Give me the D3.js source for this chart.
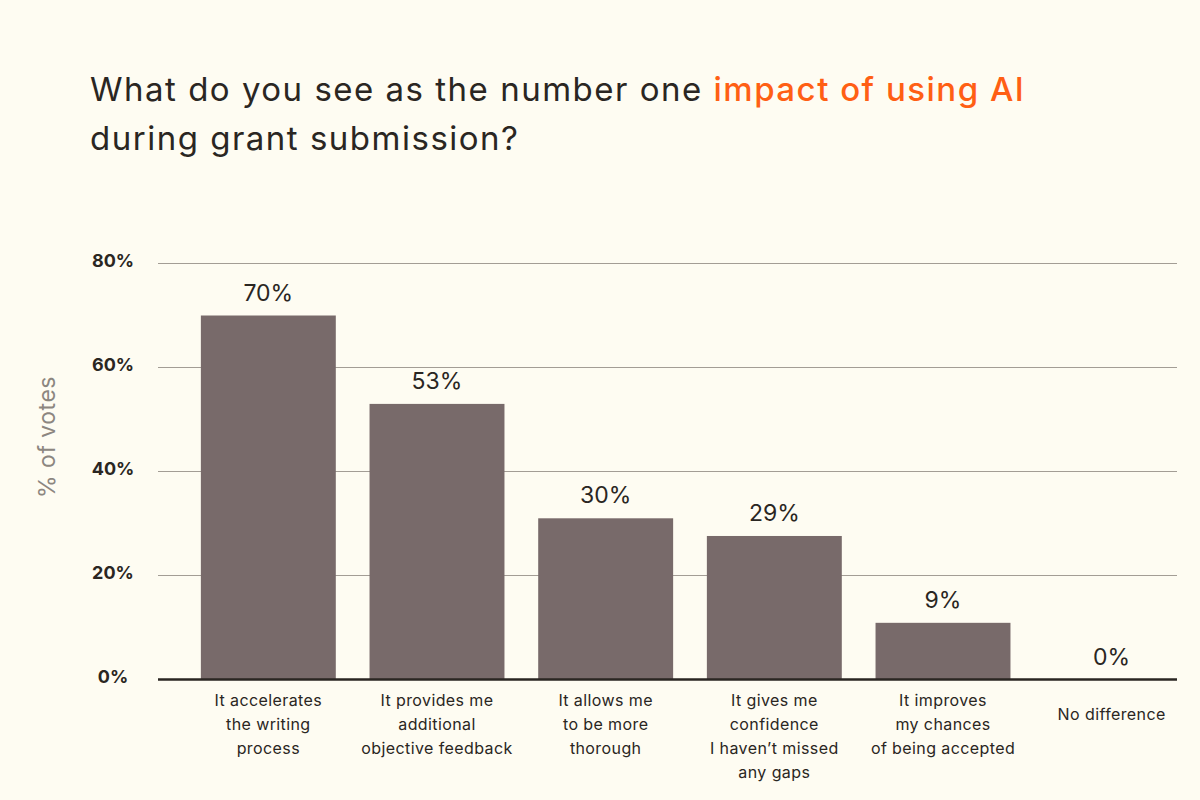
<!DOCTYPE html>
<html>
<head>
<meta charset="utf-8">
<script src="https://cdn.jsdelivr.net/npm/d3@7"></script>
<style>
  body { margin: 0; background: #fefcf2; }
  text { font-family: "Inter", "Open Sans", sans-serif; }
</style>
</head>
<body>
<div id="plot"></div>
<script>
// data
const categories = [
  "It accelerates\nthe writing\nprocess",
  "It provides me\nadditional\nobjective feedback",
  "It allows me\nto be more\nthorough",
  "It gives me\nconfidence\nI haven\u2019t missed\nany gaps",
  "It improves\nmy chances\nof being accepted",
  "No difference"
];
const barValues = [70, 53, 31, 27.6, 10.9, 0];       // heights as drawn
const valueLabels = ["70%", "53%", "30%", "29%", "9%", "0%"];
const yTicks = [0, 20, 40, 60, 80];

const w = 1200;
const h = 800;
const plotLeft = 158, plotRight = 1177;

const svg = d3.select("div#plot")
    .append("svg")
    .attr("width", w)
    .attr("height", h);

svg.append("rect")
    .attr("width", w)
    .attr("height", h)
    .attr("fill", "#fefcf2");

// title
const title = svg.append("text")
    .attr("x", 90)
    .attr("y", 101)
    .attr("font-size", 33)
    .attr("letter-spacing", 1.5)
    .attr("fill", "#2a2622");
title.append("tspan").text("What do you see as the number one ");
title.append("tspan").attr("fill", "#ff5f14").attr("font-weight", 500).text("impact of using AI");
svg.append("text")
    .attr("x", 90)
    .attr("y", 150)
    .attr("font-size", 33)
    .attr("letter-spacing", 1.5)
    .attr("fill", "#2a2622")
    .text("during grant submission?");

const xScale = d3.scaleBand()
    .domain(categories)
    .range([184, 1196])
    .paddingInner(0.2)
    .paddingOuter(0.1);

const yScale = d3.scaleLinear()
    .domain([0, 80])
    .range([679.5, 263.5]);

// gridlines
svg.append("g")
  .selectAll("line")
  .data(yTicks.filter(d => d > 0))
  .enter().append("line")
    .attr("x1", plotLeft)
    .attr("x2", plotRight)
    .attr("y1", d => yScale(d))
    .attr("y2", d => yScale(d))
    .attr("stroke", "#a39d95")
    .attr("stroke-width", 1.2);

// y tick labels
svg.append("g")
  .selectAll("text")
  .data(yTicks)
  .enter().append("text")
    .attr("x", 113)
    .attr("y", d => yScale(d) + 3)
    .attr("text-anchor", "middle")
    .attr("font-size", 18)
    .attr("font-weight", 700)
    .attr("fill", "#2a2622")
    .text(d => d + "%");

svg.append("text")
    .attr("transform", "translate(55, 437) rotate(-90)")
    .attr("text-anchor", "middle")
    .attr("font-size", 23)
    .attr("letter-spacing", 0.5)
    .attr("fill", "#8c8680")
    .text("% of votes");

// bars
svg.append("g")
  .selectAll("rect")
  .data(barValues)
  .enter().append("rect")
    .attr("x", (d, i) => xScale(categories[i]))
    .attr("y", d => yScale(d))
    .attr("width", xScale.bandwidth())
    .attr("height", d => yScale(0) - yScale(d))
    .attr("fill", "#786a6a");

// value labels
svg.append("g")
  .selectAll("text")
  .data(barValues)
  .enter().append("text")
    .attr("x", (d, i) => xScale(categories[i]) + xScale.bandwidth() / 2)
    .attr("y", d => yScale(d) - 15)
    .attr("text-anchor", "middle")
    .attr("font-size", 23)
    .attr("fill", "#2a2622")
    .text((d, i) => valueLabels[i]);

// baseline
svg.append("line")
    .attr("x1", plotLeft)
    .attr("x2", plotRight)
    .attr("y1", yScale(0))
    .attr("y2", yScale(0))
    .attr("stroke", "#2a2622")
    .attr("stroke-width", 2.5);

// category labels
const catLabels = svg.append("g")
  .selectAll("text")
  .data(categories)
  .enter().append("text")
    .attr("text-anchor", "middle")
    .attr("font-size", 16)
    .attr("letter-spacing", 0.4)
    .attr("fill", "#2a2622");

catLabels.each(function(d) {
  const lines = d.split("\n");
  const cx = xScale(d) + xScale.bandwidth() / 2;
  const y0 = 706 + Math.max(0, 3 - lines.length) * 7;
  d3.select(this).selectAll("tspan")
    .data(lines)
    .enter().append("tspan")
      .attr("x", cx)
      .attr("y", (l, j) => y0 + j * 24)
      .text(l => l);
});
</script>
</body>
</html>
